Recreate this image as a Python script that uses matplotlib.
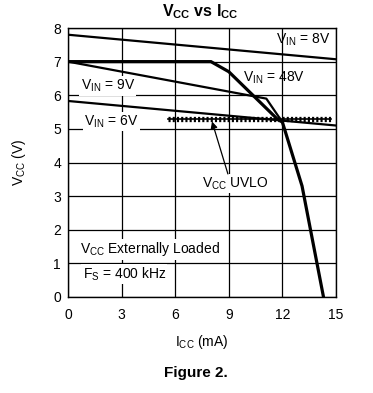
#!/usr/bin/env python3

import matplotlib
matplotlib.use("Agg")
import matplotlib.pyplot as plt

plt.rcParams['font.family'] = ['Liberation Sans', 'DejaVu Sans']
plt.rcParams['mathtext.default'] = 'regular'
plt.rcParams['font.size'] = 10

# curves: I_CC (mA), V_CC (V)
icc_8v = [0.0, 15.0]
vcc_8v = [7.8, 7.07]

icc_48v = [0.0, 8.0, 9.0, 11.7, 12.0, 13.1, 14.3]
vcc_48v = [7.0, 7.0, 6.7, 5.3, 5.2, 3.3, 0.0]

icc_9v = [0.0, 11.1, 12.0]
vcc_9v = [7.0, 5.9, 5.2]

icc_6v = [0.0, 15.0]
vcc_6v = [5.83, 5.1]

icc_uvlo = [5.6, 14.7]
vcc_uvlo = [5.29, 5.29]

xticks = [0, 3, 6, 9, 12, 15]
yticks = [0, 1, 2, 3, 4, 5, 6, 7, 8]

fig = plt.figure(figsize=(3.73, 3.93), dpi=100)
ax = fig.add_axes([68 / 373, 1 - 297 / 393, 268 / 373, 269 / 393])

ax.set_xlim(0, 15)
ax.set_ylim(0, 8)
ax.set_xticks(xticks)
ax.set_yticks(yticks)
ax.tick_params(length=0)
ax.tick_params(axis='x', pad=8)
ax.tick_params(axis='y', pad=5)
ax.grid(True, color='black', lw=0.9)
ax.set_axisbelow(True)
for sp in ax.spines.values():
    sp.set_linewidth(1.0)

ax.plot(icc_8v, vcc_8v, color='black', lw=1.6, zorder=3)
ax.plot(icc_9v, vcc_9v, color='black', lw=1.6, zorder=3)
ax.plot(icc_6v, vcc_6v, color='black', lw=1.6, zorder=3)
ax.plot(icc_48v, vcc_48v, color='black', lw=2.3, zorder=3,
        solid_joinstyle='miter')
ax.plot(icc_uvlo, vcc_uvlo, color='black', lw=1.2, zorder=4)
ax.plot(icc_uvlo, vcc_uvlo, color='black', lw=3.8, zorder=4,
        dashes=(0.4, 0.4), dash_capstyle='butt')

box = dict(facecolor='white', edgecolor='none', pad=1)
ax.text(11.64, 7.53, r'V$_{IN}$ = 8V', ha='left', va='baseline', zorder=5)
ax.text(9.81, 6.41, r'V$_{IN}$ = 48V', ha='left', va='baseline', zorder=5)
ax.text(0.71, 6.16, r'V$_{IN}$ = 9V', ha='left', va='baseline', bbox=box, zorder=5)
ax.text(0.9, 5.1, r'V$_{IN}$ = 6V', ha='left', va='baseline', bbox=box, zorder=5)
ax.text(7.48, 3.26, r'V$_{CC}$ UVLO', ha='left', va='baseline', bbox=box, zorder=5)
ax.text(0.67, 1.3, r'V$_{CC}$ Externally Loaded', ha='left', va='baseline',
        bbox=box, zorder=5)
ax.text(0.82, 0.56, r'F$_{S}$ = 400 kHz', ha='left', va='baseline',
        bbox=box, zorder=5)

ax.annotate('', xy=(8.06, 5.22), xytext=(8.95, 3.66),
            arrowprops=dict(arrowstyle='-|>', color='black', lw=0.9,
                            mutation_scale=10, shrinkA=0, shrinkB=0),
            zorder=6)

ax.set_xlabel(r'I$_{CC}$ (mA)', labelpad=7.5)
ax.set_ylabel(r'V$_{CC}$ (V)', labelpad=18)

fig.text(200 / 373, 1 - 12 / 393, r'V$_{CC}$ vs I$_{CC}$', ha='center',
         va='center', fontweight='bold', fontsize=11.5)
fig.text(196 / 373, 1 - 373 / 393, 'Figure 2.', ha='center', va='center',
         fontweight='bold', fontsize=11)

fig.savefig('out.png', dpi=100)
